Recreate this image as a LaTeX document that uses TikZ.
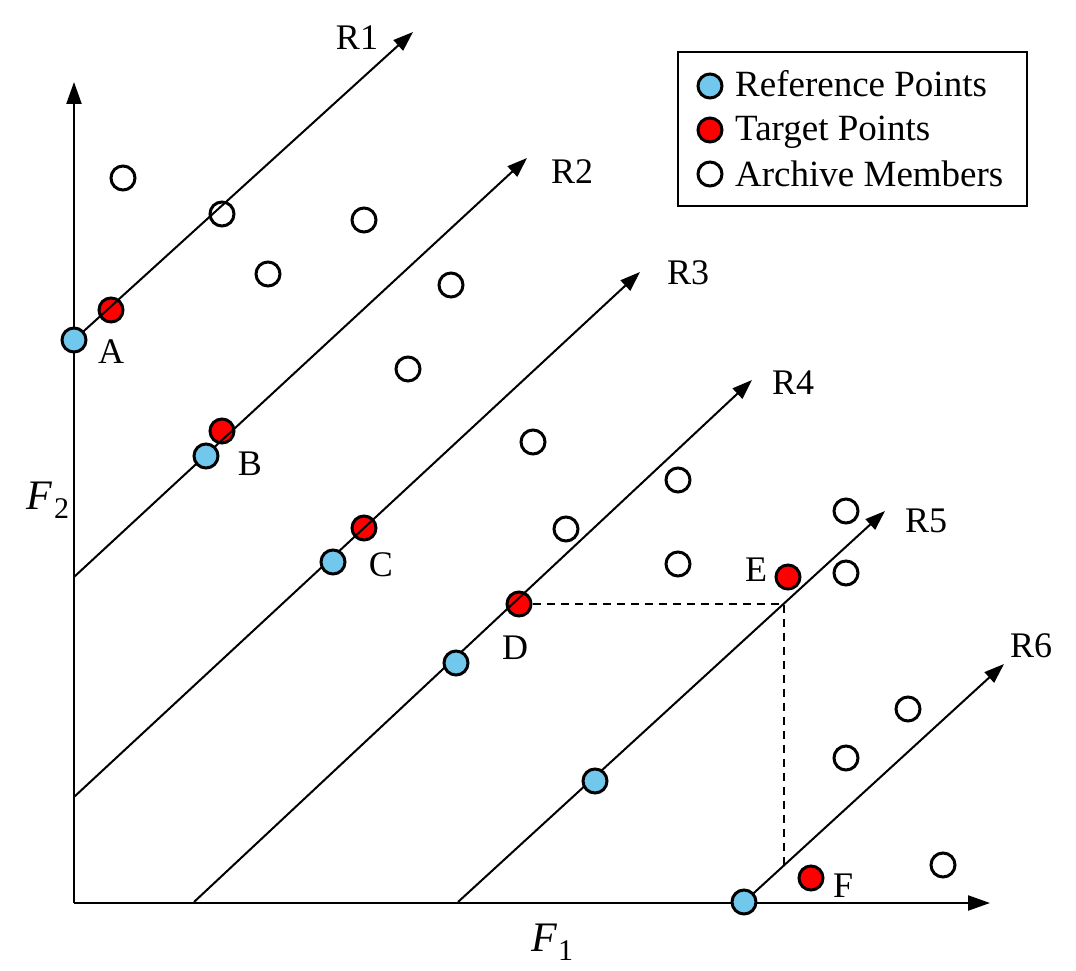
\documentclass[tikz,border=0pt]{standalone}
\usepackage{fontspec}
\setmainfont{Liberation Serif}
\usetikzlibrary{arrows.meta}
\definecolor{refblue}{RGB}{113,199,236}
\definecolor{tgtred}{RGB}{255,0,0}
\newcommand{\axlab}[1]{\textit{F}\kern1pt\raisebox{-9pt}{\fontsize{30}{32}\selectfont #1}}
\begin{document}
\begin{tikzpicture}[x=1pt,y=-1pt,
  pt/.style={circle, draw=black, line width=3pt, minimum size=24pt, inner sep=0pt},
  refpt/.style={pt, fill=refblue},
  tgtpt/.style={pt, fill=tgtred},
  arcpt/.style={pt, fill=none},
  ray/.style={line width=2pt, -{Triangle[length=20pt,width=14pt]}},
  axis/.style={line width=2.2pt, -{Triangle[length=22pt,width=15pt]}},
  lbl/.style={font=\fontsize{36}{42}\selectfont, inner sep=0pt},
  axlbl/.style={font=\fontsize{42}{46}\selectfont, inner sep=0pt},
  dashline/.style={line width=2pt, dash pattern=on 8pt off 6pt}]
\useasboundingbox (0,0) rectangle (1076,971);

% axes
\coordinate (O) at (74,903);
\coordinate (Ytip) at (74,82);
\coordinate (Xtip) at (990,903);
\draw[axis] (O) -- (Ytip);
\draw[axis] (O) -- (Xtip);
\node[axlbl] (f2) at (48,500) {\axlab{2}};
\node[axlbl] (f1) at (552,942) {\axlab{1}};

% archive members
\foreach \n/\x/\y in {a1/123/178, a2/222/214, a3/364/220, a4/268/274, a5/451/285,
  a6/408/369, a7/533/442, a8/678/480, a9/566/529, a10/678/564, a11/846/511,
  a12/846/573, a13/908/709, a14/846/758, a15/943/865}
  \node[arcpt] (\n) at (\x,\y) {};

% target points
\node[tgtpt] (tA) at (111,310) {};
\node[tgtpt] (tB) at (222,431) {};
\node[tgtpt] (tC) at (364,528) {};
\node[tgtpt] (tD) at (519,604) {};
\node[tgtpt] (tE) at (788,577) {};
\node[tgtpt] (tF) at (811,878) {};

% rays
\coordinate (s1) at (74,340);  \coordinate (e1) at (413,32);
\coordinate (s2) at (74,577);  \coordinate (e2) at (527,158);
\coordinate (s3) at (74,797);  \coordinate (e3) at (640,272);
\coordinate (s4) at (194,902); \coordinate (e4) at (752,380);
\coordinate (s5) at (458,902); \coordinate (e5) at (885,511);
\coordinate (s6) at (744,902); \coordinate (e6) at (1004,664);
\foreach \i in {1,...,6} \draw[ray] (s\i) -- (e\i);

% dashed projection
\coordinate (pE) at (784,604);
\coordinate (pF) at (784,866);
\draw[dashline] (tD.east) -- (pE) -- (pF);

% reference points
\node[refpt] (rA) at (74,340) {};
\node[refpt] (rB) at (206,456) {};
\node[refpt] (rC) at (333,562) {};
\node[refpt] (rD) at (456,663) {};
\node[refpt] (rE) at (595,781) {};
\node[refpt] (rF) at (744,902) {};

% point labels
\node[lbl] (lA) at (111,352) {A};
\node[lbl] (lB) at (250,464) {B};
\node[lbl] (lC) at (381,565) {C};
\node[lbl] (lD) at (515,648) {D};
\node[lbl] (lE) at (756,570) {E};
\node[lbl] (lF) at (843,886) {F};

% ray labels
\node[lbl] (lR1) at (357,38) {R1};
\node[lbl] (lR2) at (572,172) {R2};
\node[lbl] (lR3) at (688,273) {R3};
\node[lbl] (lR4) at (793,383) {R4};
\node[lbl] (lR5) at (926,521) {R5};
\node[lbl] (lR6) at (1031,646) {R6};

% legend
\node[draw=black, line width=2pt, minimum width=349pt, minimum height=154pt, inner sep=0pt] (legend) at (852.5,129) {};
\node[refpt] (k1) at (710,86) {};
\node[tgtpt] (k2) at (710,130) {};
\node[arcpt] (k3) at (710,174) {};
\node[lbl, font=\fontsize{37}{42}\selectfont, anchor=base west] (t1) at (735,97) {Reference Points};
\node[lbl, font=\fontsize{37}{42}\selectfont, anchor=base west] (t2) at (735,141) {Target Points};
\node[lbl, font=\fontsize{37}{42}\selectfont, anchor=base west] (t3) at (735,186) {Archive Members};
\end{tikzpicture}
\end{document}
